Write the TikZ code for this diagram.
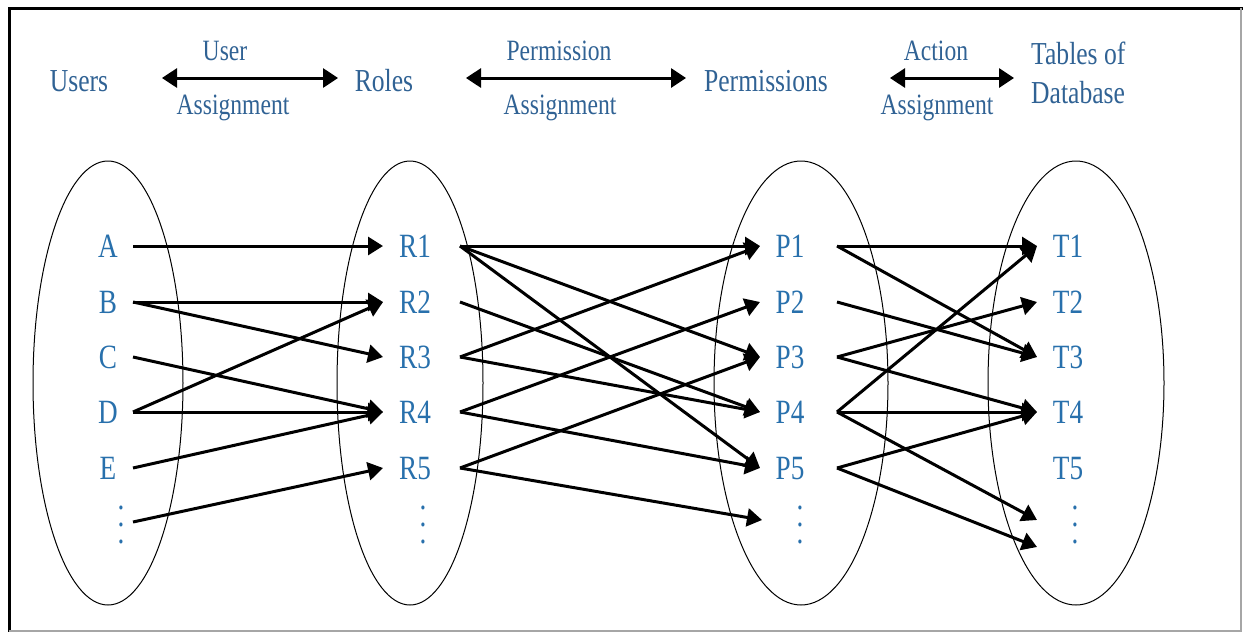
\documentclass[tikz,border=0pt]{standalone}
\usepackage{fontspec}
\setmainfont{Liberation Serif}[FakeStretch=0.8]
\usetikzlibrary{arrows.meta}
\definecolor{elemblue}{RGB}{40,112,172}
\definecolor{headblue}{RGB}{48,98,148}
\newcommand{\colvdots}{\vbox{\baselineskip=17pt\lineskiplimit=-50pt\hbox{.}\hbox{.}\hbox{.}}}
\tikzset{
  elem/.style={text=elemblue, font=\fontsize{34}{40}\selectfont, inner sep=0pt, text height=22.4pt, text depth=0pt},
  moredots/.style={text=elemblue, font=\fontsize{34}{40}\selectfont, inner sep=0pt},
  heading/.style={text=headblue, font=\fontsize{32}{38.4}\selectfont, inner sep=0pt},
  headbox/.style={heading, text height=21pt, text depth=0pt},
  assign/.style={text=headblue, font=\fontsize{29.5}{35}\selectfont, inner sep=0pt, text height=19.5pt, text depth=0pt},
  maplink/.style={line width=3pt, -{Triangle[length=15pt,width=18pt]}},
  dblarrow/.style={line width=3pt, {Triangle[length=15pt,width=19pt]}-{Triangle[length=15pt,width=19pt]}},
  setring/.style={line width=1pt}
}
\begin{document}
\begin{tikzpicture}[x=1pt,y=-1pt]
\useasboundingbox (0,0) rectangle (1243,632);
% frame
\draw[line width=3pt] (9,632) -- (9,8) -- (1243,8);
\draw[gray!70, line width=1.2pt] (9,631) -- (1241,631) -- (1241,8);

% headings
\node[headbox] (users) at (79,81) {Users};
\node[headbox] (roles) at (384,81) {Roles};
\node[headbox] (perms) at (766,81) {Permissions};
\node[heading, align=left, anchor=north west] (tables) at (1031,42) {Tables of\\Database};

\node[assign] (uaTop) at (225,51) {User};
\node[assign] (uaBot) at (233,105) {Assignment};
\node[assign] (paTop) at (559,51) {Permission};
\node[assign] (paBot) at (560,105) {Assignment};
\node[assign] (aaTop) at (936,51) {Action};
\node[assign] (aaBot) at (937,105) {Assignment};

\draw[dblarrow] ([xshift=83pt,yshift=3pt]users.center) -- ([xshift=-46pt,yshift=3pt]roles.center);
\draw[dblarrow] ([xshift=82pt,yshift=3pt]roles.center) -- ([xshift=-80pt,yshift=3pt]perms.center);
\draw[dblarrow] ([xshift=124pt,yshift=3pt]perms.center) -- ([xshift=248pt,yshift=3pt]perms.center);

% the four sets
\draw[setring] (108,383) ellipse [x radius=75pt, y radius=222pt];
\draw[setring] (410,383) ellipse [x radius=73pt, y radius=222pt];
\draw[setring] (801,383) ellipse [x radius=87pt, y radius=222pt];
\draw[setring] (1076,383) ellipse [x radius=88pt, y radius=222pt];

% elements
\foreach \n/\y in {A/246, B/302, C/357, D/412, E/468}
  \node[elem] (\n) at (108,\y) {\n};
\foreach \i/\y in {1/246, 2/302, 3/357, 4/412, 5/468}{
  \node[elem] (R\i) at (415,\y) {R\i};
  \node[elem] (P\i) at (790,\y) {P\i};
  \node[elem] (T\i) at (1068,\y) {T\i};
}
\node[moredots] (Udots) at (121,525) {\colvdots};
\node[moredots] (Rdots) at (423,525) {\colvdots};
\node[moredots] (Pdots) at (800,525) {\colvdots};
\node[moredots] (Tdots) at (1075,525) {\colvdots};

% users to roles
\foreach \s/\t in {A/R1, B/R2, B/R3, C/R4, D/R2, D/R4, E/R4}
  \draw[maplink] ([xshift=25pt]\s.center) -- ([xshift=-32pt]\t.center);
\draw[maplink] ([xshift=12pt,yshift=3pt]Udots.center) -- ([xshift=-32pt]R5.center);

% roles to permissions
\foreach \s/\t in {R1/P1, R1/P3, R1/P5, R2/P4, R3/P1, R3/P4, R4/P2, R4/P5, R5/P3}
  \draw[maplink] ([xshift=45pt]\s.center) -- ([xshift=-30pt]\t.center);
\draw[maplink] ([xshift=45pt]R5.center) -- ([xshift=-38pt,yshift=5pt]Pdots.center);

% permissions to tables
\foreach \s/\t in {P1/T1, P1/T3, P2/T3, P3/T2, P3/T4, P4/T1, P4/T4, P5/T4}
  \draw[maplink] ([xshift=47pt]\s.center) -- ([xshift=-31pt]\t.center);
\coordinate (Tmore1) at (1037,520);
\coordinate (Tmore2) at (1037,547);
\draw[maplink] ([xshift=47pt]P4.center) -- (Tmore1);
\draw[maplink] ([xshift=47pt]P5.center) -- (Tmore2);
\end{tikzpicture}
\end{document}
